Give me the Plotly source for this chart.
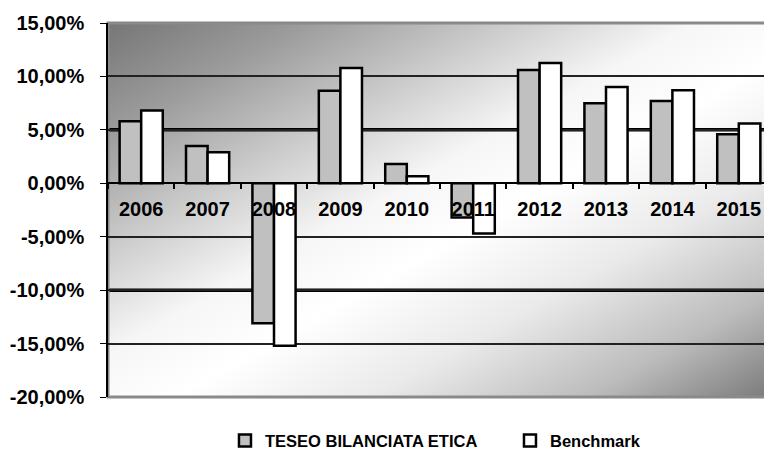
import base64
import plotly.graph_objects as go

# data
years = ["2006", "2007", "2008", "2009", "2010", "2011", "2012", "2013", "2014", "2015"]
teseo = [0.058, 0.035, -0.131, 0.0865, 0.018, -0.032, 0.106, 0.075, 0.077, 0.046]
benchmark = [0.068, 0.029, -0.152, 0.108, 0.0065, -0.047, 0.1125, 0.090, 0.087, 0.056]

y_ticks = [0.15, 0.10, 0.05, 0.0, -0.05, -0.10, -0.15, -0.20]
y_labels = ["15,00%", "10,00%", "5,00%", "0,00%", "-5,00%", "-10,00%", "-15,00%", "-20,00%"]
thick_lines = [0.05, -0.10]

Y_MIN, Y_MAX = -0.20, 0.15

FONT = dict(family="Arial, Liberation Sans", color="black", weight="bold")

# diagonal grey-white-grey gradient for the plot area background:
# light band along the bottom-left / top-right diagonal
W, H = 664, 374
n = (W * W + H * H) ** 0.5
proj = 2 * W * H / n
gx, gy = H / n * proj, W / n * proj
stops = [(0, "#767676"), (0.15, "#9c9c9c"), (0.3, "#cbcbcb"), (0.44, "#f6f6f6"),
         (0.55, "#ffffff"), (0.7, "#eaeaea"), (0.86, "#bcbcbc"), (1, "#7a7a7a")]
svg = (
    f'<svg xmlns="http://www.w3.org/2000/svg" width="{W}" height="{H}" '
    f'viewBox="0 0 {W} {H}" preserveAspectRatio="none">'
    f'<defs><linearGradient id="g" gradientUnits="userSpaceOnUse" x1="0" y1="0" x2="{gx:.1f}" y2="{gy:.1f}">'
    + "".join(f'<stop offset="{o}" stop-color="{c}"/>' for o, c in stops)
    + f'</linearGradient></defs><rect width="{W}" height="{H}" fill="url(#g)"/></svg>'
)
bg_src = "data:image/svg+xml;base64," + base64.b64encode(svg.encode()).decode()

fig = go.Figure()
fig.add_trace(go.Bar(
    name="TESEO BILANCIATA ETICA", x=years, y=teseo,
    marker=dict(color="#c0c0c0", line=dict(color="black", width=2.5)),
))
fig.add_trace(go.Bar(
    name="Benchmark", x=years, y=benchmark,
    marker=dict(color="white", line=dict(color="black", width=2.5)),
))

for v in thick_lines:
    fig.add_shape(type="line", xref="paper", yref="y", x0=0, x1=1, y0=v, y1=v,
                  line=dict(color="black", width=3.5), layer="below")

fig.add_shape(type="rect", xref="paper", yref="paper", x0=0, x1=1, y0=0, y1=1,
              line=dict(color="#8a8a8a", width=3), layer="below")

fig.add_layout_image(dict(
    source=bg_src, xref="paper", yref="paper", x=0, y=1, sizex=1, sizey=1,
    xanchor="left", yanchor="top", sizing="stretch", layer="below",
))

# the page body has an 8px margin, so the figure is sized to fit the window
fig.update_layout(
    width=764, height=458,
    margin=dict(l=100, r=0, t=15, b=69),
    paper_bgcolor="white",
    plot_bgcolor="rgba(0,0,0,0)",
    barmode="group",
    bargap=0.35,
    bargroupgap=0,
    font=FONT,
    showlegend=True,
    legend=dict(
        orientation="h", xref="container", yref="container",
        x=0.284, xanchor="left", y=0.055, yanchor="middle",
        font=dict(size=16.5, **FONT), entrywidth=240,
        bgcolor="rgba(0,0,0,0)",
    ),
    xaxis=dict(
        type="category", range=[-0.5, 9.5], automargin=False,
        anchor="free", position=(0 - Y_MIN) / (Y_MAX - Y_MIN),
        showline=True, linecolor="black", linewidth=2,
        ticks="outside", tickson="boundaries", ticklen=5, tickwidth=1.5, tickcolor="black",
        ticklabelstandoff=8,
        showgrid=False, tickfont=dict(size=20, **FONT),
    ),
    yaxis=dict(
        range=[Y_MIN, Y_MAX], tickvals=y_ticks, ticktext=y_labels, automargin=False,
        showgrid=True, gridcolor="#222222", gridwidth=1.5, zeroline=False,
        showline=True, linecolor="black", linewidth=1.5,
        ticks="outside", ticklen=6, tickcolor="black",
        ticklabelstandoff=12, tickfont=dict(size=20, **FONT),
    ),
)

fig.write_html("out.html")
